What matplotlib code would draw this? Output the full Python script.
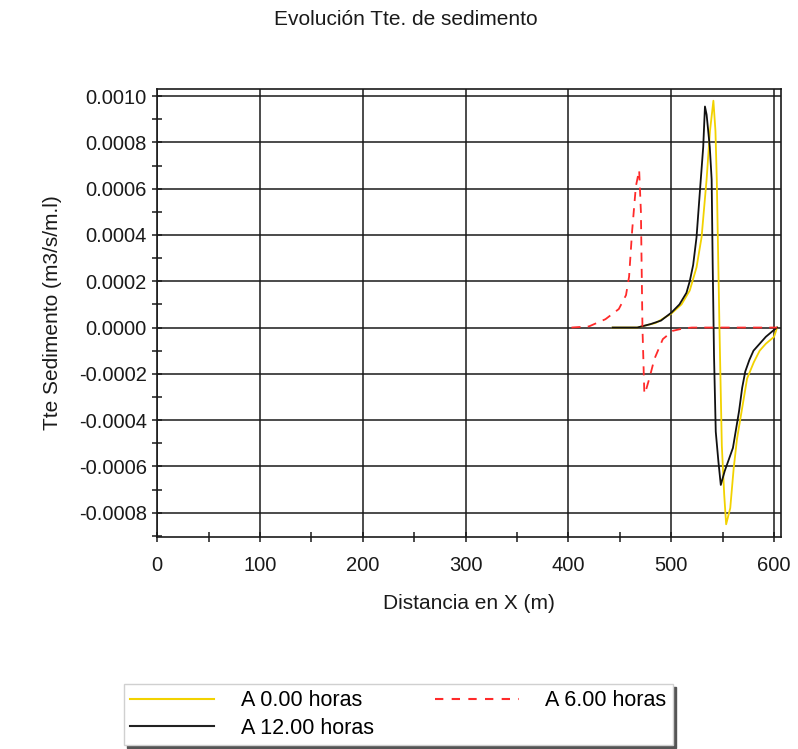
import matplotlib
matplotlib.use("Agg")
import matplotlib.pyplot as plt
from matplotlib.ticker import MultipleLocator, FormatStrFormatter
from matplotlib.lines import Line2D

plt.rcParams['font.family'] = ['Liberation Sans', 'DejaVu Sans']

# Sediment transport profiles (distance in m, transport in m3/s/m.l)
x_0h = [443, 467, 485, 500, 510, 518, 524.6, 529.5, 534.4, 537.7, 541, 543, 544.3,
        546.9, 549.2, 551.5, 553.4, 557.4, 560.7, 564, 568.9, 573.8, 580.3, 586, 592, 600, 603]
q_0h = [0.0, 0.0, 0.00002, 0.00006, 0.0001, 0.00016, 0.00026, 0.00039, 0.00064, 0.00085,
        0.00098, 0.00085, 0.00064, 0.0, -0.00051, -0.00072, -0.00085, -0.00078, -0.00061,
        -0.00048, -0.00035, -0.00022, -0.00015, -0.0001, -0.00007, -0.00004, 0.0]

x_6h = [403, 420, 436, 449, 456, 459, 462, 465.6, 468.8, 470.5, 472, 473.8, 474.4,
        478.7, 483.6, 491.8, 501.6, 511.5, 520, 603]
q_6h = [0.0, 0.000005, 0.000036, 0.00008, 0.00014, 0.00022, 0.00042, 0.00061, 0.00068,
        0.00050, 0.0, -0.00028, -0.000286, -0.00022, -0.000136, -0.00005, -0.000014,
        -0.000004, 0.0, 0.0]

x_12h = [443, 467, 480, 490, 500, 508, 514.8, 518, 521.3, 524.6, 527.9, 531.1, 532.8,
         534.4, 537.5, 539.3, 540.3, 541.6, 543.3, 545.9, 548.2, 552, 556, 560, 563,
         566, 569, 572, 576, 580, 586, 592, 600, 603]
q_12h = [0.0, 0.0, 0.000015, 0.00003, 0.000064, 0.0001, 0.00015, 0.0002, 0.00027,
         0.00039, 0.00059, 0.00078, 0.000955, 0.00092, 0.00078, 0.00064, 0.00028,
         -0.00012, -0.00045, -0.00058, -0.00068, -0.00062, -0.00057, -0.00052, -0.00044,
         -0.00036, -0.00026, -0.00019, -0.00014, -0.0001, -0.00007, -0.00004, -0.00001, 0.0]

series_labels = ["A 0.00 horas", "A 6.00 horas", "A 12.00 horas"]
x_ticks = [0, 100, 200, 300, 400, 500, 600]

FS = 15
ink = '#1a1a1a'

fig = plt.figure(figsize=(7.98, 7.49), dpi=100)
ax = fig.add_axes([0.197, 0.283, 0.782, 0.598])

ax.grid(True, which='major', color=ink, lw=1.1)
ax.set_axisbelow(True)

yellow = '#f2d200'
red = '#ff2a2a'
ax.plot(x_0h, q_0h, color=yellow, lw=1.3, zorder=3)
ax.plot(x_12h, q_12h, color='#111111', lw=1.3, zorder=4)
ax.plot(x_6h, q_6h, color=red, lw=1.3, ls=(0, (5, 4)), zorder=5)

ax.set_xlim(0, 607)
ax.set_ylim(-0.000905, 0.00103)
ax.set_xticks(x_ticks)
ax.xaxis.set_minor_locator(MultipleLocator(50))
ax.yaxis.set_major_locator(MultipleLocator(0.0002))
ax.yaxis.set_minor_locator(MultipleLocator(0.0001))
ax.yaxis.set_major_formatter(FormatStrFormatter('%.4f'))
ax.tick_params(which='both', direction='inout', length=7, width=1.1, color=ink,
               labelsize=FS - 0.5, labelcolor=ink)
ax.tick_params(axis='x', pad=10)
ax.tick_params(axis='y', pad=4)
for s in ax.spines.values():
    s.set_color(ink)
    s.set_linewidth(1.2)

fig.text(0.509, 0.974, "Evolución Tte. de sedimento", ha='center', va='center',
         fontsize=FS, color=ink)
ax.set_xlabel("Distancia en X (m)", fontsize=FS, labelpad=14, color=ink)
ax.set_ylabel("Tte Sedimento (m3/s/m.l)", fontsize=FS, labelpad=12, color=ink)

handles = [Line2D([], [], color=yellow, lw=1.5),
           Line2D([], [], color='#222222', lw=1.5),
           Line2D([], [], color=red, lw=1.5, ls=(0, (4, 4)))]
labels = [series_labels[0], series_labels[2], series_labels[1]]
leg = fig.legend(handles, labels, ncol=2, loc='upper left',
                 bbox_to_anchor=(124 / 798, 1 - 684 / 749),
                 fontsize=FS + 0.5, frameon=True, fancybox=False, edgecolor='#d0d0d0',
                 handlelength=3.9, handletextpad=1.25, borderpad=0.3,
                 columnspacing=2.8, labelspacing=0.3, borderaxespad=0.0,
                 shadow={'color': '#555555', 'alpha': 1.0})

fig.savefig("out.png", dpi=100)
